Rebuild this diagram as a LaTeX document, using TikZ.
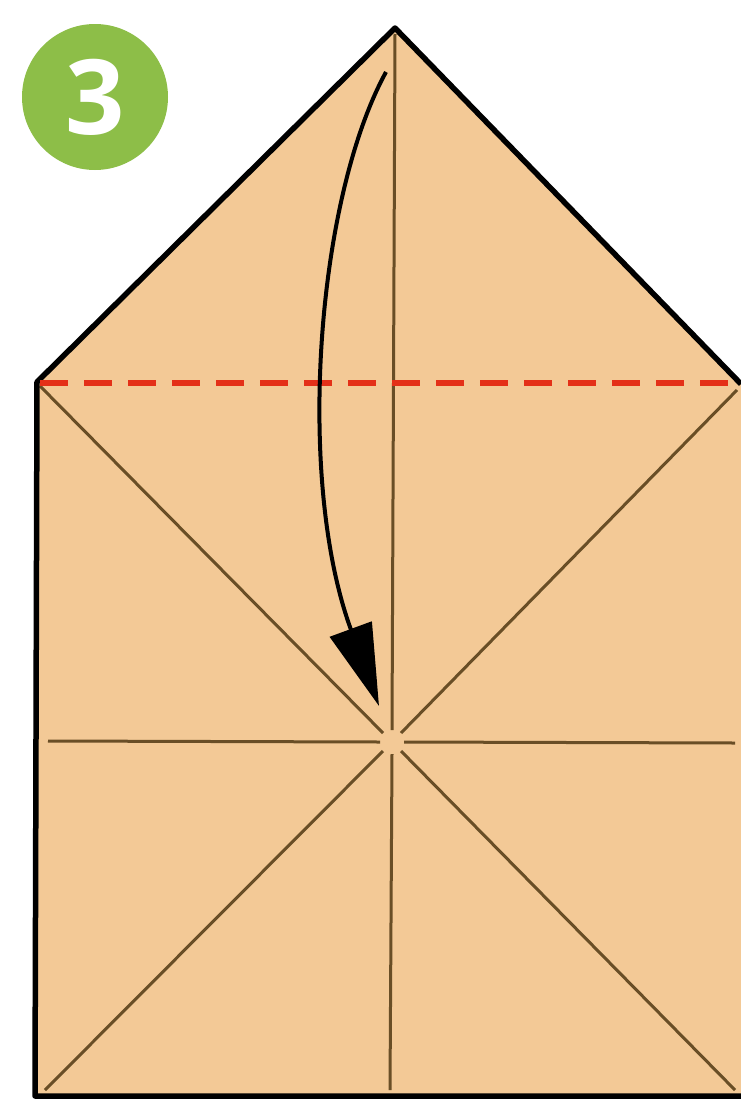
\documentclass[tikz,border=0pt]{standalone}
\usepackage{fontspec}
\setsansfont{Open Sans}
\usetikzlibrary{arrows.meta,positioning}
\definecolor{PApaper}{RGB}{243,201,150}
\definecolor{PAcrease}{RGB}{105,78,38}
\definecolor{PAgreen}{RGB}{141,190,72}
\definecolor{PAred}{RGB}{228,48,24}

\begin{document}
\begin{tikzpicture}[x=1pt,y=-1pt,
    crease/.style={PAcrease,line width=3pt},
    valley/.style={PAred,line width=5.5pt,dash pattern=on 28pt off 16pt},
    stepnum/.style={circle,fill=PAgreen,minimum size=146pt,inner sep=0pt,
      text=white,font=\sffamily\bfseries\fontsize{104}{104}\selectfont}]
    \useasboundingbox (0,0) rectangle (741,1100);
    % paper corners
    \coordinate (apex) at (395,28);
    \coordinate (tl) at (37,382);
    \coordinate (tr) at (741,384);
    \coordinate (bl) at (35,1096);
    \coordinate (br) at (741,1096);
    \fill[PApaper] (tl)--(apex)--(tr)--(br)--(bl)--cycle;
    % creases, stopped short of the centre
    \foreach \p/\q in {{395,34}/{392,730},{40,386}/{383,733},{737,390}/{401,733},
      {45,1090}/{383,751},{735,1090}/{401,751},{392,754}/{390,1090},
      {48,741}/{380,742},{404,742}/{735,743}}{
      \draw[crease] (\p)--(\q);
    }
    \draw[black,line width=5.5pt,line join=round] (tr)--(apex)--(tl)--(bl)--(br);
    \draw[valley] (40,383)--(741,383);
    % fold arrow
    \coordinate (from) at (386,72);
    \coordinate (to) at (379,706);
    \draw[line width=4pt,-{Triangle[length=82pt,width=44pt]}]
      (from) .. controls (316,200) and (296,480) .. (to);
    \node[stepnum] (step3) at (95,97) {3};
\end{tikzpicture}
\end{document}
